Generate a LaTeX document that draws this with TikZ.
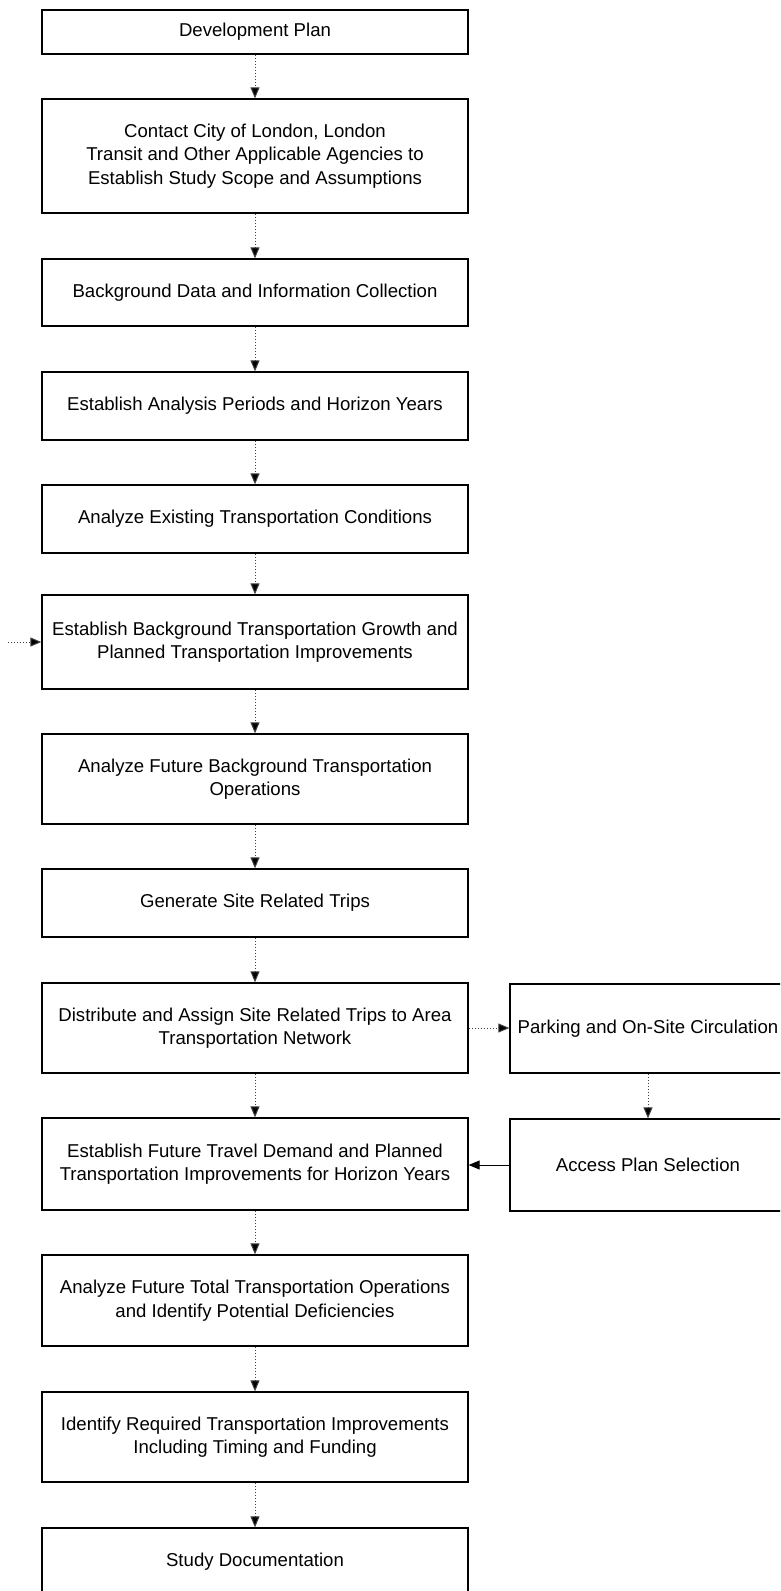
\documentclass[tikz,border=0pt]{standalone}
\usepackage{fontspec}
\setmainfont{Liberation Sans}
\usetikzlibrary{arrows.meta}
\begin{document}
\begin{tikzpicture}[x=1pt,y=-1pt,
  box/.style={draw, line width=1.3pt, inner sep=0pt, align=center,
    font=\fontsize{18.6}{23.4}\selectfont, minimum width=426pt},
  sidebox/.style={box, minimum width=276pt},
  flow/.style={draw=black!75, line width=1pt, dash pattern=on 1pt off 2pt,
    -{Triangle[width=9pt,length=11pt,fill=black]}},
  solidflow/.style={line width=1pt, -{Triangle[width=9pt,length=11pt]}}]
\useasboundingbox (0,0) rectangle (780,1591);
\clip (0,0) rectangle (780,1591);
\node[box, minimum height=44pt] (b1) at (255,32) {Development Plan};
\node[box, minimum height=114pt] (b2) at (255,156) {Contact City of London, London\\Transit and Other Applicable Agencies to\\Establish Study Scope and Assumptions};
\node[box, minimum height=67pt] (b3) at (255,292.5) {Background Data and Information Collection};
\node[box, minimum height=68pt] (b4) at (255,406) {Establish Analysis Periods and Horizon Years};
\node[box, minimum height=68pt] (b5) at (255,519) {Analyze Existing Transportation Conditions};
\node[box, minimum height=94pt] (b6) at (255,642) {Establish Background Transportation Growth and\\Planned Transportation Improvements};
\node[box, minimum height=90pt] (b7) at (255,779) {Analyze Future Background Transportation\\Operations};
\node[box, minimum height=68pt] (b8) at (255,903) {Generate Site Related Trips};
\node[box, minimum height=90pt] (b9) at (255,1028) {Distribute and Assign Site Related Trips to Area\\Transportation Network};
\node[box, minimum height=92pt] (b10) at (255,1164) {Establish Future Travel Demand and Planned\\Transportation Improvements for Horizon Years};
\node[box, minimum height=91pt] (b11) at (255,1300.5) {Analyze Future Total Transportation Operations\\and Identify Potential Deficiencies};
\node[box, minimum height=90pt] (b12) at (255,1437) {Identify Required Transportation Improvements\\Including Timing and Funding};
\node[box, minimum height=68pt] (b13) at (255,1562) {Study Documentation};
\node[sidebox, minimum height=89pt] (r1) at (648,1028.5) {Parking and On-Site Circulation};
\node[sidebox, minimum height=92pt] (r2) at (648,1165) {Access Plan Selection};
\coordinate (lin) at (8,642);
\draw[flow] (b1.south) -- (b2.north);
\draw[flow] (b2.south) -- (b3.north);
\draw[flow] (b3.south) -- (b4.north);
\draw[flow] (b4.south) -- (b5.north);
\draw[flow] (b5.south) -- (b6.north);
\draw[flow] (b6.south) -- (b7.north);
\draw[flow] (b7.south) -- (b8.north);
\draw[flow] (b8.south) -- (b9.north);
\draw[flow] (b9.south) -- (b10.north);
\draw[flow] (b10.south) -- (b11.north);
\draw[flow] (b11.south) -- (b12.north);
\draw[flow] (b12.south) -- (b13.north);
\draw[flow] (lin) -- (b6.west);
\draw[flow] (b9.east) -- (b9.east -| r1.west);
\draw[flow] (r1.south) -- (r2.north);
\draw[solidflow] (r2.west) -- (r2.west -| b10.east);
\end{tikzpicture}
\end{document}
